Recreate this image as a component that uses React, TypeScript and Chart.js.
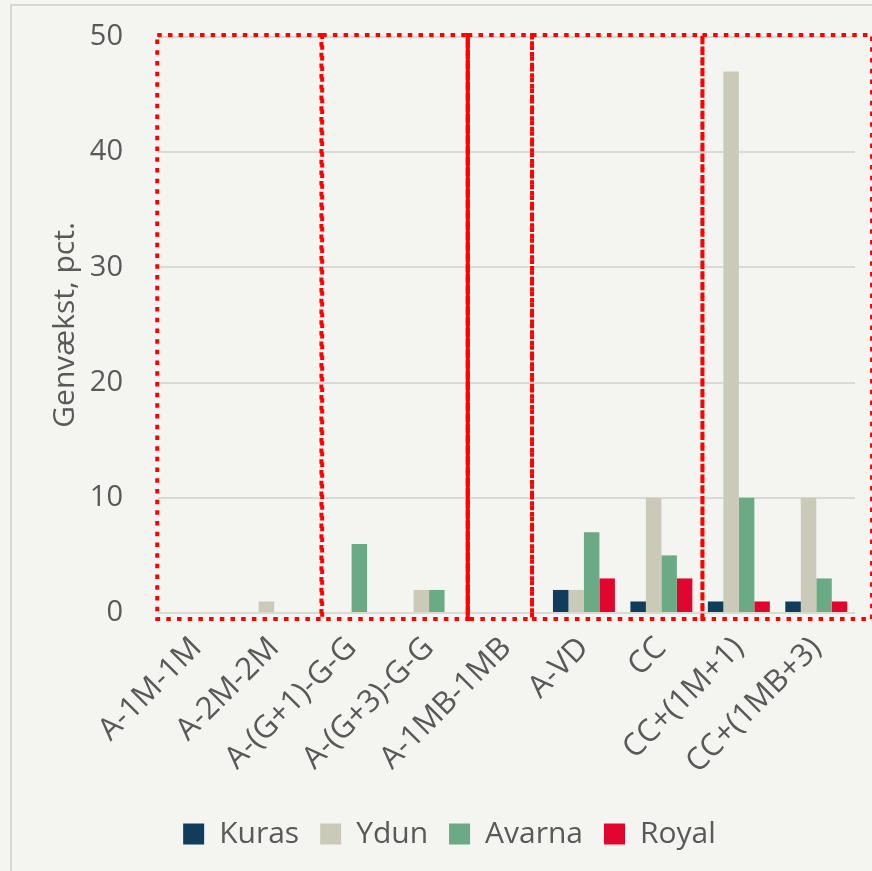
import React, { useEffect, useRef } from "react";
import { Chart, registerables } from "chart.js";

Chart.register(...registerables);

const categories = [
  "A-1M-1M",
  "A-2M-2M",
  "A-(G+1)-G-G",
  "A-(G+3)-G-G",
  "A-1MB-1MB",
  "A-VD",
  "CC",
  "CC+(1M+1)",
  "CC+(1MB+3)",
];
const kuras = [0, 0, 0, 0, 0, 2, 1, 1, 1];
const ydun = [0, 1, 0, 2, 0, 2, 10, 47, 10];
const avarna = [0, 0, 6, 2, 0, 7, 5, 10, 3];
const royal = [0, 0, 0, 0, 0, 3, 3, 1, 1];
const yTickValues = [0, 10, 20, 30, 40, 50];
const yTitle = "Genvækst, pct.";

// highlighted groups (in category index units) drawn as dotted red frames
const highlightSpans: [number, number][] = [
  [-0.51, 1.61],
  [1.62, 3.5],
  [3.5, 4.33],
  [4.33, 6.53],
  [6.53, 8.72],
];
const solidEdges = [3.5];

const FONT = "'Open Sans', 'Noto Sans', sans-serif";
const TEXT = "#595959";

const backgroundPlugin = {
  id: "bgPanel",
  beforeDraw(chart: any) {
    const { ctx, width, height } = chart;
    ctx.save();
    ctx.fillStyle = "#f4f4f0";
    ctx.fillRect(0, 0, width, height);
    ctx.strokeStyle = "#d6d6d3";
    ctx.lineWidth = 2;
    ctx.beginPath();
    ctx.moveTo(11, height);
    ctx.lineTo(11, 5);
    ctx.lineTo(width, 5);
    ctx.stroke();
    ctx.restore();
  },
};

const framesPlugin = {
  id: "frames",
  afterDatasetsDraw(chart: any) {
    const { ctx } = chart;
    const x = chart.scales.x;
    const y = chart.scales.y;
    const top = y.getPixelForValue(50) - 2;
    const bottom = y.getPixelForValue(0) + 6;
    ctx.save();
    ctx.strokeStyle = "#ff0000";
    ctx.lineWidth = 4;
    ctx.setLineDash([4.5, 6.2]);
    highlightSpans.forEach(([a, b]) => {
      const l = x.getPixelForValue(a);
      const r = x.getPixelForValue(b);
      ctx.strokeRect(l, top, r - l, bottom - top);
    });
    ctx.setLineDash([]);
    solidEdges.forEach((e) => {
      const px = x.getPixelForValue(e);
      ctx.beginPath();
      ctx.moveTo(px, top - 2);
      ctx.lineTo(px, bottom + 2);
      ctx.stroke();
    });
    ctx.restore();
  },
};

export default function App() {
  const ref = useRef<HTMLCanvasElement | null>(null);

  useEffect(() => {
    document.body.style.margin = "0";
    const canvas = ref.current;
    if (!canvas) return;
    const chart = new Chart(canvas, {
      type: "bar",
      data: {
        labels: categories,
        datasets: [
          { label: "Kuras", data: kuras, backgroundColor: "#0f3d5b" },
          { label: "Ydun", data: ydun, backgroundColor: "#cbcab8" },
          { label: "Avarna", data: avarna, backgroundColor: "#6aaa85" },
          { label: "Royal", data: royal, backgroundColor: "#e0062d" },
        ],
      },
      options: {
        responsive: false,
        animation: false,
        devicePixelRatio: 1,
        layout: { padding: { top: 37, right: 17, left: 44, bottom: 12 } },
        datasets: {
          bar: { categoryPercentage: 0.8, barPercentage: 1.0 },
        },
        plugins: {
          tooltip: { enabled: false },
          legend: {
            position: "bottom",
            labels: {
              color: TEXT,
              font: { family: FONT, size: 30 },
              boxWidth: 21,
              boxHeight: 21,
              padding: 21,
            },
          },
        },
        scales: {
          x: {
            grid: { display: false, drawTicks: false },
            border: { display: false },
            ticks: {
              color: TEXT,
              font: { family: FONT, size: 31 },
              minRotation: 45,
              maxRotation: 45,
              autoSkip: false,
              padding: 17,
            },
            afterFit(s: any) {
              s.height = 185;
            },
          },
          y: {
            min: 0,
            max: 50,
            afterBuildTicks(s: any) {
              s.ticks = yTickValues.map((v) => ({ value: v }));
            },
            grid: { color: "#d9d9d6", lineWidth: 2, drawTicks: false },
            border: { display: false },
            ticks: {
              color: TEXT,
              font: { family: FONT, size: 29 },
              padding: 35,
            },
            title: {
              display: true,
              text: yTitle,
              color: TEXT,
              font: { family: FONT, size: 30 },
              padding: { top: 3, bottom: 0 },
            },
            afterFit(s: any) {
              s.width = 114;
              s.paddingTop = 0;
              s.paddingBottom = 0;
            },
          },
        },
      },
      plugins: [backgroundPlugin, framesPlugin],
    });
    return () => chart.destroy();
  }, []);

  return (
    <div style={{ width: 872, height: 871 }}>
      <canvas ref={ref} width={872} height={871} style={{ width: 872, height: 871, display: "block" }} />
    </div>
  );
}
